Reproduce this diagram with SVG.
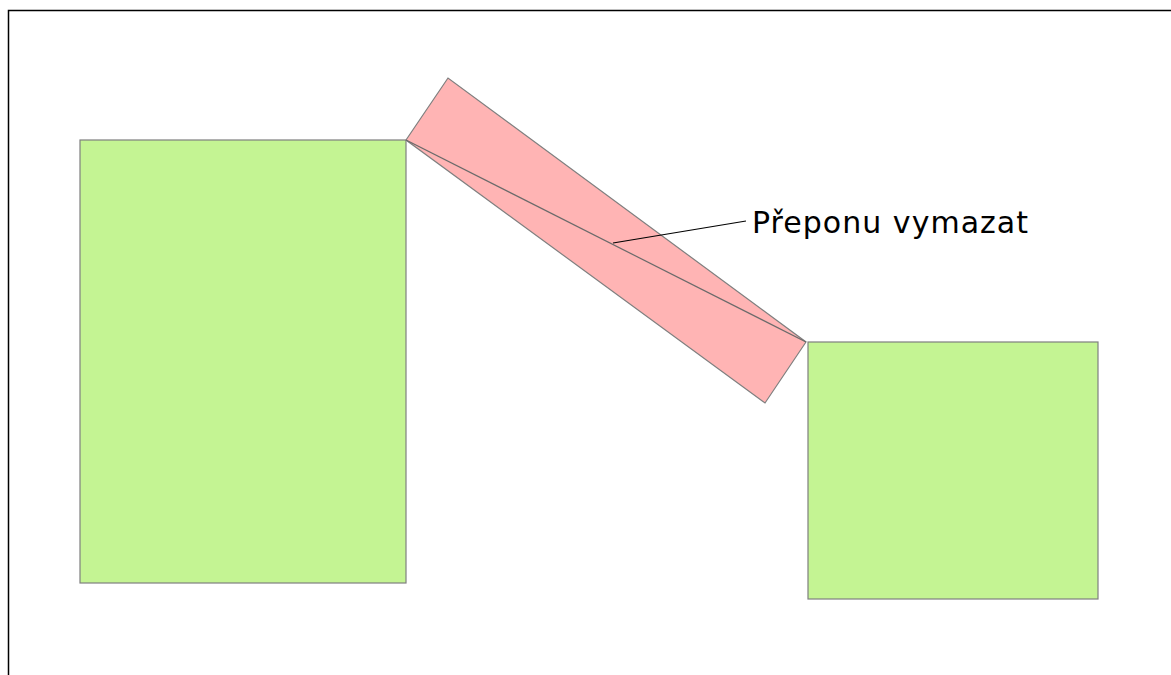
<svg xmlns="http://www.w3.org/2000/svg" width="1171" height="675" viewBox="0 0 1171 675">
  <style>
    .frame { fill: none; stroke: #000; stroke-width: 1.5; }
    .block { fill: #c4f493; stroke: #7f7f7f; stroke-width: 1.2; }
    .beam { fill: #ffb4b4; stroke: #7f7f7f; stroke-width: 1.2; }
    .hyp { fill: none; stroke: #6a6a6a; stroke-width: 1.2; }
    .leader { fill: none; stroke: #000; stroke-width: 1.2; }
    .label { font-family: "DejaVu Sans", Verdana, sans-serif; font-size: 30px; fill: #000; }
  </style>
  <rect width="1171" height="675" fill="#fff"/>
  <!-- outer frame: only left and top edges are inside the canvas -->
  <path class="frame" d="M8.5,675 V10.5 H1171"/>

  <g id="left-block">
    <rect class="block" x="80" y="140" width="326" height="443"/>
  </g>
  <g id="right-block">
    <rect class="block" x="808" y="342" width="290" height="257"/>
  </g>
  <g id="beam">
    <polygon class="beam" points="406,140 448,78 806,342 765,403"/>
    <line class="hyp" x1="406" y1="140" x2="806" y2="342"/>
  </g>
  <g id="callout">
    <text class="label" x="752" y="233" textLength="276" lengthAdjust="spacing">Přeponu vymazat</text>
  </g>
  <g id="connectors">
    <line class="leader" x1="613" y1="243" x2="746" y2="221"/>
  </g>
</svg>
